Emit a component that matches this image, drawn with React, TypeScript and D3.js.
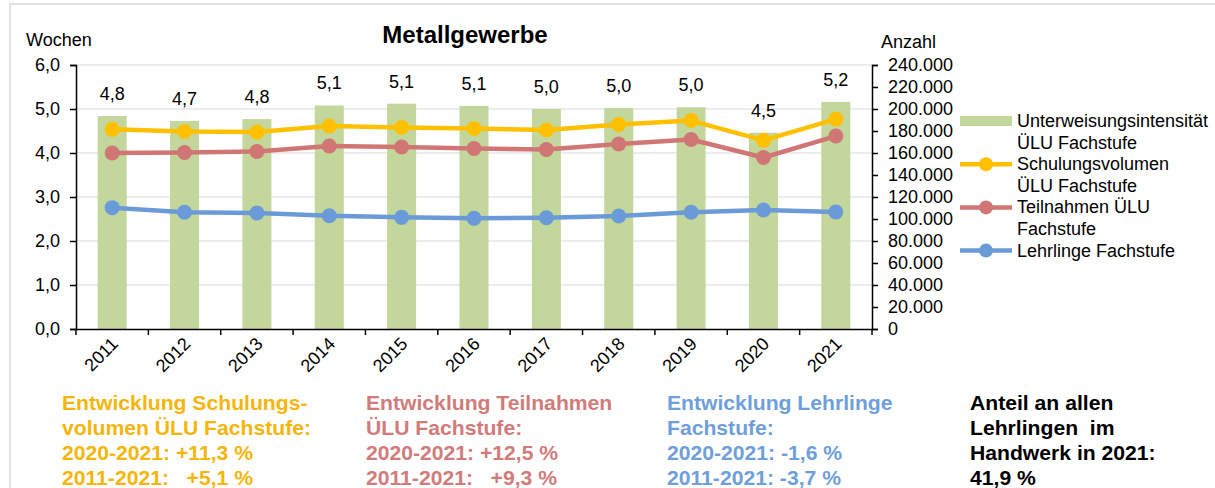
import React, { useEffect, useRef } from 'react';
import * as d3 from 'd3';

const years = ['2011', '2012', '2013', '2014', '2015', '2016', '2017', '2018', '2019', '2020', '2021'];
// Unterweisungsintensität (Wochen)
const intensity = [4.84, 4.73, 4.77, 5.08, 5.12, 5.07, 5.0, 5.02, 5.04, 4.46, 5.16];
// Anzahl
const schulungsvolumen = [181500, 179500, 179000, 184500, 183200, 182300, 180900, 186000, 189500, 171500, 190800];
const teilnahmen = [160000, 160400, 161400, 166400, 165500, 164100, 163200, 168200, 172300, 155900, 175400];
const lehrlinge = [110300, 106100, 105400, 103000, 101500, 100600, 101200, 102700, 106100, 108200, 106400];

const leftTicks = [0, 1, 2, 3, 4, 5, 6];
const rightTicks = d3.range(0, 240001, 20000);

const legendItems = [
  { kind: 'bar', color: '#c3d69b', lines: ['Unterweisungsintensität', 'ÜLU Fachstufe'] },
  { kind: 'line', color: '#ffc000', lines: ['Schulungsvolumen', 'ÜLU Fachstufe'] },
  { kind: 'line', color: '#d07776', lines: ['Teilnahmen ÜLU', 'Fachstufe'] },
  { kind: 'line', color: '#6a9bd8', lines: ['Lehrlinge Fachstufe'] },
];

const notes = [
  { x: 62, color: '#f5b50a', lines: ['Entwicklung Schulungs-', 'volumen ÜLU Fachstufe:', '2020-2021: +11,3 %', '2011-2021:   +5,1 %'] },
  { x: 366, color: '#d27b7b', lines: ['Entwicklung Teilnahmen', 'ÜLU Fachstufe:', '2020-2021: +12,5 %', '2011-2021:   +9,3 %'] },
  { x: 667, color: '#6f9fdb', lines: ['Entwicklung Lehrlinge', 'Fachstufe:', '2020-2021: -1,6 %', '2011-2021: -3,7 %'] },
  { x: 970, color: '#000000', lines: ['Anteil an allen', 'Lehrlingen  im', 'Handwerk in 2021:', '41,9 %'] },
];

const App = () => {
  const ref = useRef<SVGSVGElement>(null);

  useEffect(() => {
    const svg = d3.select(ref.current);
    svg.selectAll('*').remove();
    const font = 'Liberation Sans, Arial, sans-serif';
    const left = 76, right = 872, top = 65, bottom = 329;

    // frame
    svg.append('path').attr('d', 'M10,488 V4 H1215')
      .attr('fill', 'none').attr('stroke', '#d9d9d9').attr('stroke-width', 1.5);

    const x = d3.scaleBand().domain(years).range([left, right]);
    const yL = d3.scaleLinear().domain([0, 6]).range([bottom, top]);
    const yR = d3.scaleLinear().domain([0, 240000]).range([bottom, top]);
    const cx = (d: string) => (x(d) as number) + x.bandwidth() / 2;

    // gridlines
    svg.append('g').selectAll('line').data(leftTicks.slice(1)).enter().append('line')
      .attr('x1', left).attr('x2', right)
      .attr('y1', d => yL(d)).attr('y2', d => yL(d))
      .attr('stroke', '#d9d9d9').attr('stroke-width', 1);

    // bars
    svg.append('g').selectAll('rect').data(intensity).enter().append('rect')
      .attr('x', (d, i) => cx(years[i]) - 14.5)
      .attr('width', 29)
      .attr('y', d => yL(d))
      .attr('height', d => yL(0) - yL(d))
      .attr('fill', '#c3d69b');

    svg.append('g').selectAll('text').data(intensity).enter().append('text')
      .attr('x', (d, i) => cx(years[i]))
      .attr('y', d => yL(d) - 16)
      .attr('text-anchor', 'middle')
      .style('font-family', font).style('font-size', '18px')
      .text(d => d.toFixed(1).replace('.', ','));

    // lines
    const series = [
      { values: lehrlinge, color: '#6a9bd8' },
      { values: teilnahmen, color: '#d07776' },
      { values: schulungsvolumen, color: '#ffc000' },
    ];
    const line = d3.line<number>().x((d, i) => cx(years[i])).y(d => yR(d));
    series.forEach(s => {
      const g = svg.append('g');
      g.append('path').attr('d', line(s.values) as string)
        .attr('fill', 'none').attr('stroke', s.color).attr('stroke-width', 4.5)
        .attr('stroke-linejoin', 'round');
      g.selectAll('circle').data(s.values).enter().append('circle')
        .attr('cx', (d, i) => cx(years[i])).attr('cy', d => yR(d))
        .attr('r', 7.5).attr('fill', s.color);
    });

    // axes
    const axL = svg.append('g').attr('transform', `translate(${left},0)`)
      .call(d3.axisLeft(yL).tickValues(leftTicks).tickSize(6).tickPadding(10)
        .tickFormat(d => (d as number).toFixed(1).replace('.', ',')));
    const axR = svg.append('g').attr('transform', `translate(${right},0)`)
      .call(d3.axisRight(yR).tickValues(rightTicks).tickSize(6).tickPadding(10)
        .tickFormat(d => (d as number) === 0 ? '0' : d3.format(',')(d as number).replace(/,/g, '.')));
    const axB = svg.append('g').attr('transform', `translate(0,${bottom})`)
      .call(d3.axisBottom(x).tickSize(0).tickFormat(() => ''));
    // category boundary ticks
    svg.append('g').selectAll('line').data(d3.range(years.length + 1)).enter().append('line')
      .attr('x1', i => left + i * x.step()).attr('x2', i => left + i * x.step())
      .attr('y1', bottom).attr('y2', bottom + 6)
      .attr('stroke', '#000').attr('stroke-width', 1.5);

    [axL, axR, axB].forEach(a => {
      a.selectAll('path.domain').attr('stroke', '#000').attr('stroke-width', 1.5);
      a.selectAll('line').attr('stroke', '#000').attr('stroke-width', 1.5);
      a.selectAll('text').style('font-family', font).style('font-size', '18px').attr('fill', '#000');
    });

    // x labels rotated
    svg.append('g').selectAll('text').data(years).enter().append('text')
      .attr('transform', d => `translate(${cx(d) + 7},${bottom + 16}) rotate(-45)`)
      .attr('text-anchor', 'end')
      .style('font-family', font).style('font-size', '18px')
      .text(d => d);

    // titles
    svg.append('text').attr('x', 465).attr('y', 43).attr('text-anchor', 'middle')
      .style('font-family', font).style('font-size', '24px').style('font-weight', 'bold')
      .text('Metallgewerbe');
    svg.append('text').attr('x', 26).attr('y', 46)
      .style('font-family', font).style('font-size', '18px').text('Wochen');
    svg.append('text').attr('x', 881).attr('y', 48)
      .style('font-family', font).style('font-size', '18px').text('Anzahl');

    // legend
    const lg = svg.append('g');
    let ly = 127;
    legendItems.forEach(item => {
      const sy = ly - 6;
      if (item.kind === 'bar') {
        lg.append('rect').attr('x', 960).attr('y', sy - 5).attr('width', 52).attr('height', 10).attr('fill', item.color);
      } else {
        lg.append('line').attr('x1', 960).attr('x2', 1012).attr('y1', sy).attr('y2', sy)
          .attr('stroke', item.color).attr('stroke-width', 4.5);
        lg.append('circle').attr('cx', 986).attr('cy', sy).attr('r', 7).attr('fill', item.color);
      }
      item.lines.forEach((t, j) => {
        lg.append('text').attr('x', 1017).attr('y', ly + j * 21.6)
          .style('font-family', font).style('font-size', '18px').text(t);
      });
      ly += item.lines.length * 21.6;
    });

    // notes below (slightly widened like the original)
    notes.forEach(n => {
      const g = svg.append('g').attr('transform', `translate(${n.x},0) scale(1.085,1)`);
      n.lines.forEach((t, j) => {
        g.append('text').attr('x', 0).attr('y', 410 + j * 25)
          .attr('fill', n.color)
          .style('white-space', 'pre')
          .style('font-family', font).style('font-size', '19.5px').style('font-weight', 'bold')
          .text(t);
      });
    });
  }, []);

  return (
    <svg ref={ref} width={1215} height={488}
      style={{ position: 'absolute', left: 0, top: 0, background: '#fff' }} />
  );
};

export default App;
